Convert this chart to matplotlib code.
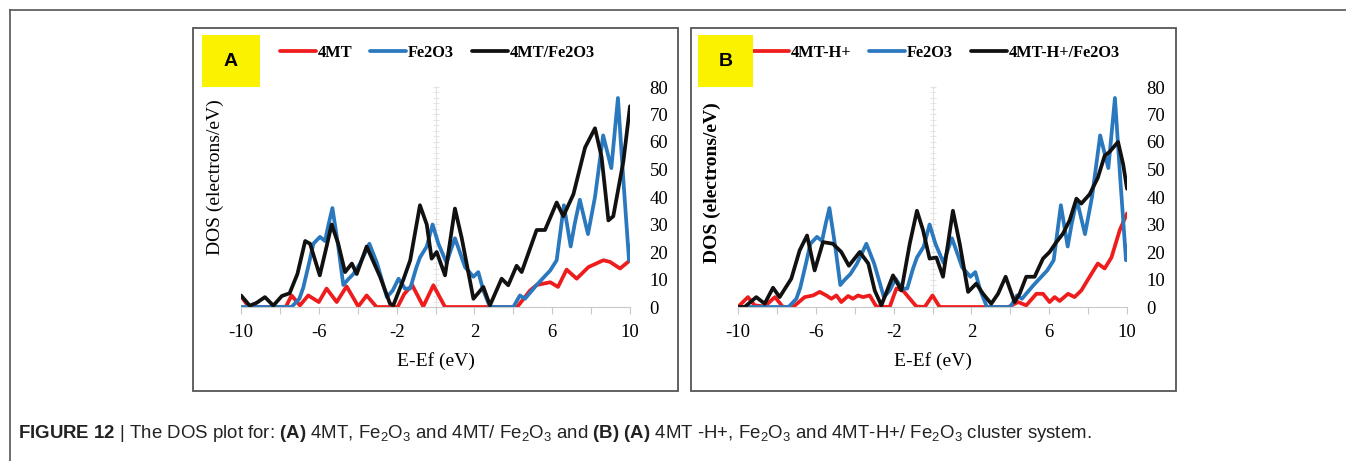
import matplotlib
matplotlib.use("Agg")
import matplotlib.pyplot as plt
from matplotlib.lines import Line2D
from matplotlib.patches import Rectangle
from matplotlib.ticker import MultipleLocator, FuncFormatter

plt.rcParams['font.family'] = 'Liberation Serif'
plt.rcParams['axes.unicode_minus'] = False
plt.rcParams['mathtext.fontset'] = 'custom'
plt.rcParams['mathtext.rm'] = 'Liberation Sans'
plt.rcParams['mathtext.bf'] = 'Liberation Sans:bold'
plt.rcParams['mathtext.it'] = 'Liberation Sans:italic'

# Fe2O3 cluster (same curve in both panels)
e_fe2o3 = [-10, -7.4, -7.0, -6.8, -6.5, -6.28, -5.94, -5.68, -5.5, -5.3, -5.0, -4.74, -4.5,
           -4.22, -3.88, -3.6, -3.4, -3.0, -2.5, -2.2, -1.9, -1.57, -1.3, -1.0, -0.8, -0.45,
           -0.15, 0.15, 0.57, 0.8, 1.0, 1.25, 1.52, 1.95, 2.2, 2.46, 2.8, 4.0, 4.34, 4.6,
           5.2, 5.9, 6.23, 6.6, 6.95, 7.15, 7.42, 7.84, 8.2, 8.62, 9.04, 9.38, 9.66, 9.95, 10.0]
dos_fe2o3 = [0, 0, 3, 7, 16, 23, 25.5, 24, 30, 36, 22, 8, 10,
             12, 15.8, 20, 23, 15.8, 3.6, 6, 10.3, 6.7, 6.7, 14, 18, 22,
             30, 23, 16, 21, 25, 20, 14.5, 11, 12.7, 6, 0, 0, 4.2, 3,
             8, 13.3, 17, 37, 22, 30, 39, 26.5, 40, 62.4, 50.5, 76, 46, 17, 22]

# panel A: 4MT and 4MT/Fe2O3
e_4mt = [-10, -9.7, -9.5, -7.7, -7.4, -6.97, -6.54, -6.0, -5.6, -5.08, -4.57, -3.97, -3.54,
         -3.03, -1.95, -1.6, -1.2, -0.63, -0.11, 0.49, 4.2, 4.86, 5.2, 5.9, 6.3, 6.74, 7.26,
         7.86, 8.63, 8.97, 9.49, 10.0]
dos_4mt = [4, 1, 0, 0, 4.2, 0.6, 4.2, 1.8, 6.7, 1.8, 7.5, 0.2, 4.2,
           0, 0, 4.8, 8, 0.2, 7.9, 0, 0, 6, 8, 9, 7.3, 13.6, 10.3,
           14.5, 17, 16.4, 14, 17]

e_4mt_fe2o3 = [-10, -9.55, -9.2, -8.77, -8.34, -7.9, -7.5, -7.1, -6.7, -6.45, -5.95, -5.6,
               -5.34, -5.0, -4.65, -4.3, -4.05, -3.54, -2.85, -2.34, -2.17, -1.65, -1.3, -0.8,
               -0.45, -0.2, 0.06, 0.49, 1.0, 1.35, 1.95, 2.46, 2.8, 3.4, 3.74, 4.17, 4.43,
               5.2, 5.63, 6.23, 6.57, 7.09, 7.69, 8.2, 8.54, 8.89, 9.14, 9.66, 10.0]
dos_4mt_fe2o3 = [4.2, 0.5, 1.5, 3.6, 0.5, 4, 5, 12, 24, 23, 11.5, 22,
                 30, 23, 12.7, 15.8, 12, 22, 11, 1.2, 0.6, 10, 17, 37,
                 30, 17.6, 20, 11.5, 35.8, 25, 3, 7.3, 0.6, 10.3, 7.9, 15, 12.7,
                 28, 28, 38, 33, 41, 58, 65, 54.5, 31.5, 33, 53, 73]

# panel B: 4MT-H+ and 4MT-H+/Fe2O3
e_4mth = [-10, -9.49, -9.14, -8.63, -8.1, -7.69, -7.17, -6.57, -6.14, -5.8, -5.46, -5.2,
          -4.94, -4.69, -4.34, -4.09, -3.83, -3.57, -3.23, -2.89, -2.2, -1.86, -1.52, -0.83,
          -0.4, 0.0, 0.37, 3.9, 4.4, 4.82, 5.34, 5.68, 6.02, 6.28, 6.54, 6.97, 7.3, 7.65,
          8.08, 8.5, 8.85, 9.2, 9.63, 10.0]
dos_4mth = [0, 3.6, 0.6, 0.2, 3.6, 0, 0, 3.6, 4.2, 5.5, 4.2, 3,
            4.2, 1.8, 4, 3, 4.2, 3.6, 4.2, 0.2, 0, 6.7, 6, 0.2,
            0, 4.2, 0, 0, 1.8, 0.6, 4.8, 4.8, 1.8, 3.6, 2.2, 4.8, 3.6, 6,
            11, 15.8, 14, 18, 28, 34]

e_4mth_fe2o3 = [-10, -9.66, -9.06, -8.63, -8.2, -7.86, -7.26, -6.83, -6.45, -6.06, -5.63,
                -5.12, -4.69, -4.3, -3.74, -3.3, -2.97, -2.63, -2.03, -1.6, -1.17, -0.8,
                -0.49, -0.15, 0.2, 0.54, 1.05, 1.4, 1.83, 2.25, 2.6, 3.02, 3.37, 3.76, 4.22,
                4.48, 4.82, 5.25, 5.68, 6.02, 6.37, 6.71, 7.05, 7.4, 7.65, 8.08, 8.5, 8.85,
                9.1, 9.54, 9.8, 10.0]
dos_4mth_fe2o3 = [0, 0, 3.6, 1.2, 7, 3.6, 10.3, 20.6, 26, 13.3, 23.6,
                  23, 20, 15, 20, 15.8, 6, 0.6, 11.5, 6, 23, 35,
                  28, 17.6, 18, 11, 35, 23, 5.5, 8.5, 4.8, 1.2, 4.8, 11, 1.8,
                  4.8, 11, 11, 17.6, 20, 23.6, 26.7, 31.5, 39.4, 37.6, 41, 47, 55,
                  56.4, 60, 52, 43]

RED = '#ee1c1c'
BLUE = '#2a78bd'
BLACK = '#111111'
GRID = '#c8c8c8'

W, H = 1346, 461
fig = plt.figure(figsize=(W / 100, H / 100), dpi=100)


def fx(px):
    return px / W


def fy(py):
    return 1 - py / H


# outer frame (top and left edges only)
fig.add_artist(Line2D([fx(10), 1], [fy(10), fy(10)], color='#555555', lw=1.2))
fig.add_artist(Line2D([fx(10), fx(10)], [fy(10), 0], color='#555555', lw=1.2))

panels = [
    dict(x0=193, x1=678, ax_left=241, badge=(202, 260), label_x=215, label_y=177, tag='A',
         leg_x=280, label_bold=False,
         series=[(e_4mt, dos_4mt, RED, '4MT'),
                 (e_fe2o3, dos_fe2o3, BLUE, 'Fe2O3'),
                 (e_4mt_fe2o3, dos_4mt_fe2o3, BLACK, '4MT/Fe2O3')]),
    dict(x0=691, x1=1176, ax_left=738, badge=(698, 753), label_x=712, label_y=183, tag='B',
         leg_x=753, label_bold=True,
         series=[(e_4mth, dos_4mth, RED, '4MT-H+'),
                 (e_fe2o3, dos_fe2o3, BLUE, 'Fe2O3'),
                 (e_4mth_fe2o3, dos_4mth_fe2o3, BLACK, '4MT-H+/Fe2O3')]),
]

for p in panels:
    # panel frame
    fig.add_artist(Rectangle((fx(p['x0']), fy(391)), fx(p['x1'] - p['x0']), (391 - 28) / H,
                             fill=False, edgecolor='#555555', lw=1.3))

    ax = fig.add_axes([fx(p['ax_left']), fy(307), 389 / W, 220 / H])
    ax.set_facecolor('none')
    for e, d, c, name in p['series']:
        ax.plot(e, d, color=c, lw=2.7, label=name, solid_joinstyle='round',
                solid_capstyle='round')

    ax.set_xlim(-10, 10)
    ax.set_ylim(0, 80)
    for s in ['top', 'right']:
        ax.spines[s].set_visible(False)
    ax.spines['bottom'].set_color(GRID)
    ax.spines['left'].set_position(('data', 0))
    ax.spines['left'].set_color('#e2e2e2')
    ax.spines['left'].set_zorder(0)

    ax.xaxis.set_major_locator(MultipleLocator(2))
    ax.xaxis.set_major_formatter(FuncFormatter(
        lambda v, _: f"{v:g}" if round(v) % 4 == 2 else ""))
    ax.yaxis.set_major_locator(MultipleLocator(10))
    ax.yaxis.set_minor_locator(MultipleLocator(2))
    ax.tick_params(axis='x', direction='out', length=5, color=GRID, labelsize=13.5, pad=7)
    ax.tick_params(axis='y', which='both', direction='inout', length=4, color='#e2e2e2',
                   left=True, right=False, labelleft=False, labelright=True,
                   labelsize=13.5, pad=12)

    ax.set_xlabel('E-Ef (eV)', fontsize=14, labelpad=8)

    fig.text(fx(p['label_x']), fy(p['label_y']), 'DOS (electrons/eV)', rotation=90,
             ha='center', va='center', fontsize=14,
             fontweight='bold' if p['label_bold'] else 'normal')

    leg = ax.legend(loc='center left', bbox_to_anchor=(fx(p['leg_x']), fy(53)),
                    bbox_transform=fig.transFigure, ncol=3, frameon=False,
                    handlelength=2.2, handletextpad=0.1, columnspacing=1.1,
                    borderpad=0, borderaxespad=0,
                    prop={'family': 'Liberation Serif', 'weight': 'bold', 'size': 11.8})

    # panel tag on yellow badge
    b0, b1 = p['badge']
    fig.add_artist(Rectangle((fx(b0), fy(87)), fx(b1 - b0), 52 / H,
                             facecolor='#fbf200', edgecolor='none'))
    fig.text(fx((b0 + b1) / 2), fy(61), p['tag'], ha='center', va='center',
             fontsize=14, fontweight='bold', family='Liberation Sans')

caption = (r"$\mathbf{FIGURE\ 12}$ | The DOS plot for: $\mathbf{(A)}$ 4MT, Fe$_2$O$_3$ and "
           r"4MT/ Fe$_2$O$_3$ and $\mathbf{(B)\ (A)}$ 4MT -H+, Fe$_2$O$_3$ and "
           r"4MT-H+/ Fe$_2$O$_3$ cluster system.")
fig.text(fx(18), fy(433), caption, ha='left', va='center', fontsize=13.4,
         family='Liberation Sans', color='#222222')

fig.savefig('out.png', dpi=100)
